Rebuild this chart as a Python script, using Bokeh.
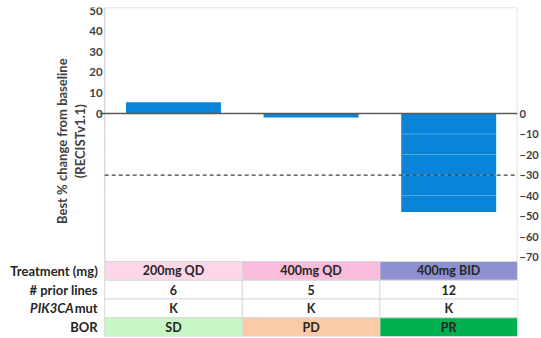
import numpy as np
from bokeh.plotting import figure
from bokeh.models import Range1d, LinearAxis, FixedTicker
from bokeh.core.properties import value
from bokeh.embed import file_html
from bokeh.resources import INLINE

# ---- data ----
treatments = ["200mg QD", "400mg QD", "400mg BID"]
best_change = [5.5, -2.0, -48.0]
prior_lines = ["6", "5", "12"]
pik3ca_mut = ["K", "K", "K"]
bor = ["SD", "PD", "PR"]
left_ticks = [0, 10, 20, 30, 40, 50]
right_ticks = [0, -10, -20, -30, -40, -50, -60, -70]
grid_ticks = [-10, -20, -30, -40]
threshold = -30
row_labels = ["Treatment (mg)", "# prior lines", "mut", "BOR"]
italic_prefix = "PIK3CA"
y_title = ["Best % change from baseline", "(RECISTv1.1)"]

# ---- styles / layout ----
treat_colors = ["#fdd6ea", "#fabcdc", "#8e90cf"]
bor_colors = ["#c7f7c5", "#fbcba8", "#00b050"]
BAR = "#0a84d8"
FONT = "Lato"
TXT = "#262626"
AX = "#404040"
BORDER = "#d9d9d9"

W, H = 541, 338
CHART_LEFT = 105              # px where the chart / table columns start
RB, TB, BB = 20, 7, 2
frame_w = W - RB
frame_h = H - TB - BB
px_per_unit = 2.053           # pixels per 1 % on the value axis
zero_px = 113 - TB            # zero line, pixels below frame top
row_h = 18.75
n = len(treatments)
nrows = len(row_labels)
unit = (frame_w - CHART_LEFT) / n
xs = np.arange(n) + 0.5

y_top = zero_px / px_per_unit
y_bot = -(frame_h - zero_px) / px_per_unit
chart_bot = y_bot + nrows * row_h / px_per_unit

p = figure(width=W, height=H, x_range=Range1d(-CHART_LEFT / unit, n),
           y_range=Range1d(y_bot, y_top),
           output_backend="svg", toolbar_location=None,
           x_axis_location=None, y_axis_location=None,
           min_border_left=0, min_border_right=RB, min_border_top=TB, min_border_bottom=BB)
p.extra_y_ranges = {"tbl": Range1d(0, frame_h / row_h)}
p.outline_line_color = None
p.grid.visible = False

# right value axis (real axis)
ra = LinearAxis(ticker=FixedTicker(ticks=right_ticks))
ra.axis_line_color = None
ra.major_tick_line_color = None
ra.minor_tick_line_color = None
ra.major_tick_out = 0
ra.major_tick_in = 0
ra.minor_tick_out = 0
ra.major_label_standoff = 2
ra.major_label_text_font = FONT
ra.major_label_text_font_size = "11px"
ra.major_label_text_font_style = "bold"
ra.major_label_text_color = AX
p.add_layout(ra, "right")

# left value tick labels (positive side)
p.text(x=[0] * len(left_ticks), y=left_ticks, text=[str(t) for t in left_ticks],
       x_offset=-2, text_align="right", text_baseline="middle",
       text_font=value(FONT), text_font_size="11.5px", text_font_style="bold", text_color=AX)

# chart border (top, left, right)
p.line(x=[0, 0, n, n], y=[chart_bot, y_top, y_top, chart_bot], line_color=BORDER, line_width=1.5)

# bars
p.vbar(x=xs, top=best_change, bottom=0, width=0.69, fill_color=BAR, line_color=None)
p.segment(x0=[0] * len(grid_ticks), x1=[n] * len(grid_ticks), y0=grid_ticks, y1=grid_ticks,
          line_color="white", line_alpha=0.3, line_width=1)

# zero line and -30 % threshold
p.segment(x0=[-5 / unit], x1=[n], y0=[0], y1=[0], line_color="#595959", line_width=1.5)
p.segment(x0=[0], x1=[n], y0=[threshold], y1=[threshold], line_color=AX,
          line_width=1.2, line_dash="4 3")

# y title (two lines, rotated)
title_center = -13.5
p.text(x=[0, 0], y=[title_center] * 2, x_offset=[-43, -25], text=y_title, angle=np.pi / 2,
       text_align="center", text_baseline="middle", text_font=value(FONT),
       text_font_size="13px", text_font_style="bold", text_color=AX)

# table
rows = [treatments, prior_lines, pik3ca_mut, bor]
row_colors = [treat_colors, ["white"] * n, ["white"] * n, bor_colors]
for i, (vals, cols) in enumerate(zip(rows, row_colors)):
    yc = nrows - 0.5 - i
    p.quad(left=np.arange(n), right=np.arange(n) + 1, bottom=yc - 0.5, top=yc + 0.5,
           fill_color=cols, line_color=BORDER, line_width=1, y_range_name="tbl")
    p.text(x=xs, y=[yc] * n, text=vals, text_align="center", text_baseline="middle",
           text_font=value(FONT), text_font_size="12.5px", text_font_style="bold",
           text_color=TXT, y_range_name="tbl")
    p.text(x=[0], y=[yc], x_offset=-7, text=[row_labels[i]], text_align="right",
           text_baseline="middle", text_font=value(FONT), text_font_size="13px",
           text_font_style="bold", text_color=TXT, y_range_name="tbl")
    if row_labels[i] == "mut":
        p.text(x=[0], y=[yc], x_offset=-7 - 24, text=[italic_prefix], text_align="right",
               text_baseline="middle", text_font=value(FONT), text_font_size="13px",
               text_font_style="bold italic", text_color=TXT, y_range_name="tbl")

open("out.html", "w").write(file_html(p, INLINE))
